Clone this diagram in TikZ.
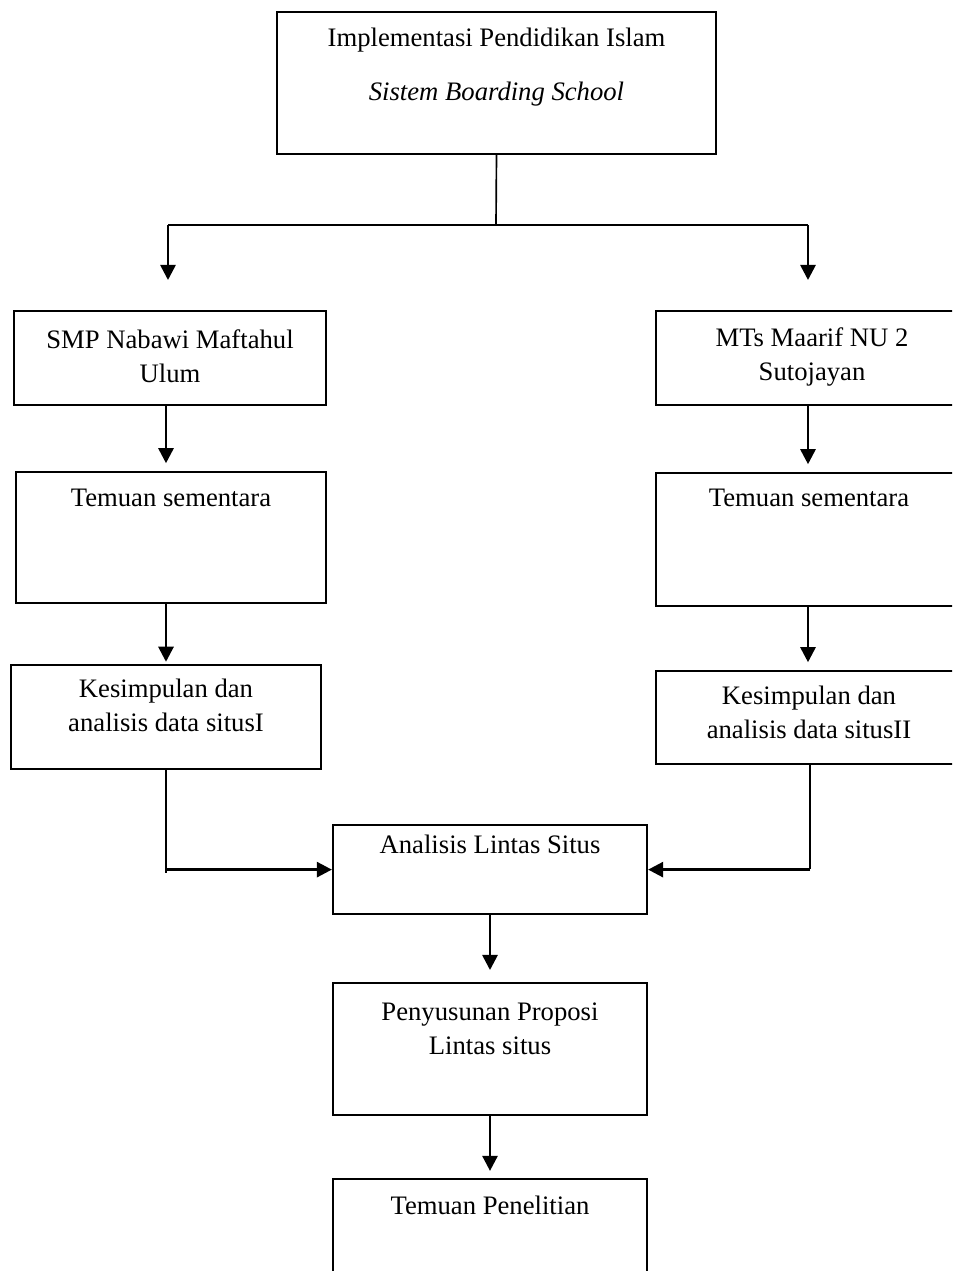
\documentclass[tikz,border=0pt]{standalone}
\usepackage{fontspec}
\setmainfont{Liberation Serif}
\usepackage{tikz}
\usetikzlibrary{arrows.meta}
\tikzstyle{box} = [rectangle, draw=black, line width=1pt, align=center, inner xsep=4pt, inner ysep=0pt, anchor=north, font=\fontsize{12pt}{15.3pt}\selectfont]
\tikzstyle{arrow} = [line width=1.2pt, -{Triangle[length=6.8pt,width=6.8pt]}, shorten >=3.5pt]
\tikzstyle{link} = [line width=1pt]
\tikzstyle{thinlink} = [line width=0.75pt]

\begin{document}
\begin{tikzpicture}[x=0.45pt, y=-0.45pt]
\useasboundingbox (0,0) rectangle (952,1271);
\clip (0,0) rectangle (952,1271);
% Main topic
\node (topic) [box, minimum width=197.55pt, text height=39.6pt, text depth=24.3pt] at (496.5,11) {Implementasi Pendidikan Islam\\[9pt]\textit{Sistem Boarding School}};

% Site I
\node (smp) [box, minimum width=140.4pt, text height=31.95pt, text depth=10.35pt] at (170,310) {SMP Nabawi Maftahul\\Ulum};
\node (temA) [box, minimum width=139.5pt, text height=15.3pt, text depth=43.65pt] at (171,471) {Temuan sementara};
\node (kesA) [box, minimum width=139.5pt, text height=29.7pt, text depth=17.1pt] at (166,664) {Kesimpulan dan\\analisis data situsI};

% Site II
\node (mts) [box, minimum width=140.4pt, text height=31.05pt, text depth=11.25pt] at (812,310) {MTs Maarif NU 2\\Sutojayan};
\node (temB) [box, minimum width=137.7pt, text height=14.85pt, text depth=45pt] at (809,472) {Temuan sementara};
\node (kesB) [box, minimum width=137.7pt, text height=30.15pt, text depth=11.7pt] at (809,670) {Kesimpulan dan\\analisis data situsII};

% Cross-site
\node (ana) [box, minimum width=141.3pt, text height=12.6pt, text depth=27.45pt] at (490,824) {Analisis Lintas Situs};
\node (pen) [box, minimum width=141.3pt, text height=31.95pt, text depth=27.45pt] at (490,982) {Penyusunan Proposi\\Lintas situs};
\node (hasil) [box, minimum width=141.3pt, text height=15.75pt, text depth=45pt] at (490,1178) {Temuan Penelitian};

% Split
\coordinate (split) at (496,225);
\coordinate (splitA) at (168,225);
\coordinate (splitB) at (808,225);
\draw[thinlink] (topic.south) -- (split);
\draw[link] (splitA) -- (splitB);
\draw[arrow, shorten >=13.5pt] (splitA) -- (splitA |- smp.north);
\draw[arrow, shorten >=13.5pt] (splitB) -- (splitB |- mts.north);

% Arrows
\draw[arrow] (smp.south -| kesA) -- (temA.north -| kesA);
\draw[arrow, shorten >=1pt] (temA.south -| kesA) -- (kesA.north);
\draw[arrow] (mts.south -| splitB) -- (temB.north -| splitB);
\draw[arrow] (temB.south -| splitB) -- (kesB.north -| splitB);

% Merge
\coordinate (joinA) at (166,873);
\coordinate (joinB) at (810,868.5);
\draw[thinlink] (kesA.south) -- (joinA);
\draw[arrow, shorten >=0pt] (joinA |- ana.west) -- (ana.west);
\draw[thinlink] (kesB.south -| joinB) -- (joinB);
\draw[arrow, shorten >=0pt] (joinB |- ana.east) -- (ana.east);
\draw[arrow, shorten >=5.4pt] (ana) -- (pen);
\draw[arrow, shorten >=3.2pt] (pen) -- (hasil);
\end{tikzpicture}
\end{document}
